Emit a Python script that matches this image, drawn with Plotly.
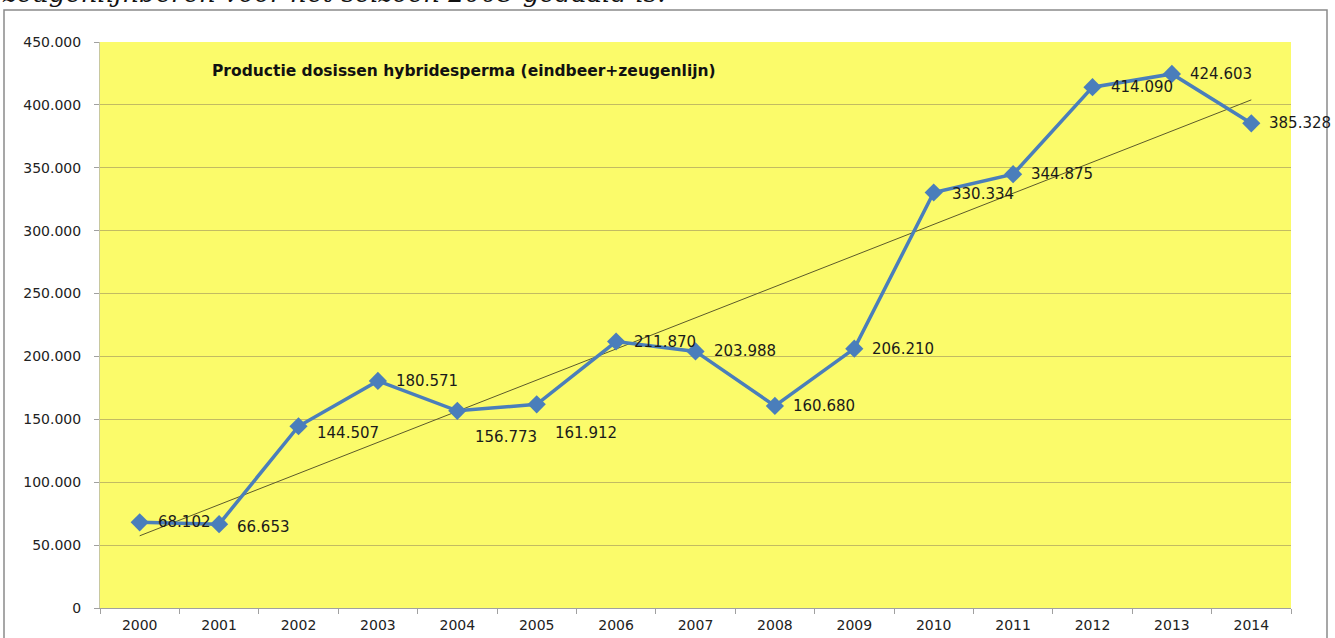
import numpy as np
import plotly.graph_objects as go

years = ["2000", "2001", "2002", "2003", "2004", "2005", "2006", "2007",
         "2008", "2009", "2010", "2011", "2012", "2013", "2014"]
doses = [68102, 66653, 144507, 180571, 156773, 161912, 211870, 203988,
         160680, 206210, 330334, 344875, 414090, 424603, 385328]
title_text = "Productie dosissen hybridesperma (eindbeer+zeugenlijn)"
caption_text = "zeugenlijnberen voor het seizoen 2005 gedaald is."

labels = [f"{v:,}".replace(",", ".") for v in doses]
# vertical nudges of the data labels (pixels), as placed in the original
label_dy = [0, -3, -7, 0, -26, -29, 0, 0, 0, 0, -1, 0, 0, 0, 0]

# linear trend line (least squares)
xi = np.arange(len(doses))
slope, intercept = np.polyfit(xi, doses, 1)
trend = slope * xi + intercept

W, H = 1335, 638
L, R, T, B = 100, 44, 42, 30
pw, ph = W - L - R, H - T - B


def px(x):
    return (x - L) / pw


def py(y):
    return (H - B - y) / ph


fig = go.Figure()
fig.add_trace(go.Scatter(
    x=years, y=trend, mode="lines",
    line=dict(color="#5c5a2a", width=1), hoverinfo="skip", showlegend=False))
fig.add_trace(go.Scatter(
    x=years, y=doses, mode="lines+markers",
    line=dict(color="#4A7EBB", width=3.5),
    marker=dict(symbol="diamond", size=14, color="#4A7EBB"),
    showlegend=False, cliponaxis=False))

annotations = [
    dict(x=i, y=v, xref="x", yref="y", text=t, showarrow=False,
         xanchor="left", yanchor="middle", xshift=16, yshift=dy,
         font=dict(family="DejaVu Sans", size=15, color="#1a1a1a"))
    for i, (v, t, dy) in enumerate(zip(doses, labels, label_dy))
]
annotations += [
    dict(text="<b>" + title_text + "</b>", xref="paper", yref="paper",
         x=px(210), y=py(71), xanchor="left", yanchor="middle",
         showarrow=False, font=dict(family="DejaVu Sans", size=15.5, color="#111")),
    dict(text="<i>" + caption_text + "</i>", xref="paper", yref="paper",
         x=px(0), y=py(10), xanchor="left", yanchor="bottom",
         showarrow=False, font=dict(family="DejaVu Serif", size=26, color="#111")),
]

fig.update_layout(
    width=W, height=H,
    margin=dict(l=L, r=R, t=T, b=B, autoexpand=False),
    paper_bgcolor="white", plot_bgcolor="#FBFB6A",
    separators=",.",
    font=dict(family="DejaVu Sans", size=14, color="#222222"),
    xaxis=dict(type="category", range=[-0.5, 14.5], tickson="boundaries",
               ticks="outside", ticklen=5, tickcolor="#a0a0a0",
               ticklabelstandoff=4, automargin=False,
               showgrid=False, showline=True, linecolor="#a0a0a0",
               tickfont=dict(size=14, color="#222")),
    yaxis=dict(range=[0, 450000], dtick=50000, tickformat=",d",
               ticks="outside", ticklen=5, tickcolor="#a0a0a0",
               ticklabelstandoff=10, automargin=False,
               showgrid=True, gridcolor="#c2bb62", gridwidth=1.3,
               showline=True, linecolor="#c8c8a0", zeroline=False,
               tickfont=dict(size=14, color="#222")),
    annotations=annotations,
    shapes=[
        dict(type="rect", xref="paper", yref="paper",
             x0=px(4), x1=px(1327), y0=py(645), y1=py(10),
             line=dict(color="#8a8a8a", width=1.5), layer="below"),
    ],
)

fig.write_html("out.html", config={"displayModeBar": False},
               post_script="document.body.style.margin='0px';")
